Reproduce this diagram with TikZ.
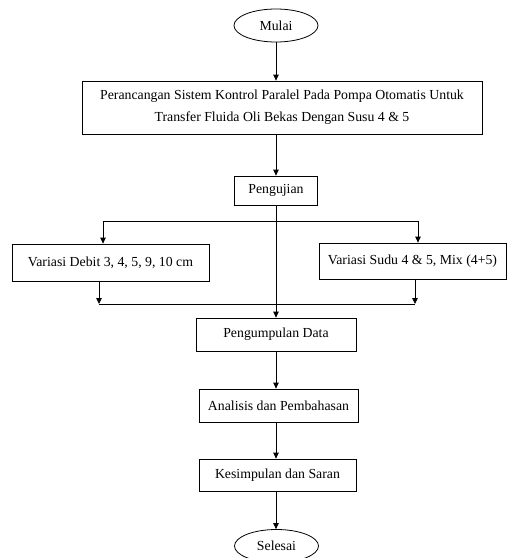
\documentclass[tikz,border=0pt]{standalone}
\usepackage{fontspec}
\setmainfont{Liberation Serif}
\usetikzlibrary{positioning, shapes.geometric, arrows.meta}

\begin{document}
\begin{tikzpicture}[
  x=1pt, y=-1pt,
  font=\fontsize{13.8}{22}\selectfont,
  terminal/.style={draw, ellipse, line width=0.8pt, minimum width=84pt, minimum height=33pt, inner sep=0pt},
  proc/.style={draw, rectangle, line width=0.8pt, align=center, inner sep=2pt},
  arr/.style={-{Triangle[length=6pt, width=5.5pt]}, line width=0.8pt},
  link/.style={line width=0.8pt}
]
  \useasboundingbox (0,0) rectangle (507,558);
  \clip (0,0) rectangle (507,558);

  % Start
  \node[terminal] (mulai) at (276,25.5) {Mulai};

  % Row 1 — design
  \node[proc, minimum width=400pt, minimum height=53pt] (rancang) at (282,107.5)
    {Perancangan Sistem Kontrol Paralel Pada Pompa Otomatis Untuk\\Transfer Fluida Oli Bekas Dengan Susu 4 \& 5};

  % Row 2 — testing
  \node[proc, minimum width=83pt, minimum height=29pt] (uji) at (276,190.5) {Pengujian};

  % Row 3 — variations
  \node[proc, minimum width=197pt, minimum height=37pt] (debit) at (110.5,262.5) {Variasi Debit 3, 4, 5, 9, 10 cm};
  \node[proc, minimum width=187pt, minimum height=36pt] (sudu) at (412.5,261) {Variasi Sudu 4 \& 5, Mix (4+5)};

  % Row 4..6 — data, analysis, conclusion
  \node[proc, minimum width=160pt, minimum height=33pt] (kumpul) at (276,334.5) {Pengumpulan Data};
  \node[proc, minimum width=159pt, minimum height=33pt] (analisis) at (278.5,405.5) {Analisis dan Pembahasan};
  \node[proc, minimum width=157pt, minimum height=32pt] (simpul) at (277.5,475) {Kesimpulan dan Saran};

  % End
  \node[terminal] (selesai) at (276.5,546) {Selesai};

  % branch / merge points
  \coordinate (splitL) at (103,221);
  \coordinate (splitR) at (418,221);
  \coordinate (mergeL) at (99,304);
  \coordinate (mergeR) at (415,304);

  % arrows
  \draw[arr] (mulai) -- (mulai |- rancang.north);
  \draw[arr] (mulai |- rancang.south) -- (uji);
  \draw[arr] (uji) -- (kumpul);

  \draw[link] (splitL) -- (splitR);
  \draw[arr] (splitL) -- (splitL |- debit.north);
  \draw[arr] (splitR) -- (splitR |- sudu.north);

  \draw[arr] (debit.south -| mergeL) -- (mergeL);
  \draw[arr] (sudu.south -| mergeR) -- (mergeR);
  \draw[link] (mergeL) -- (mergeR);

  \draw[arr] (kumpul.south) -- (kumpul.south |- analisis.north);
  \draw[arr] (kumpul.south |- analisis.south) -- (kumpul.south |- simpul.north);
  \draw[arr] (kumpul.south |- simpul.south) -- (kumpul.south |- selesai.north);
\end{tikzpicture}
\end{document}
